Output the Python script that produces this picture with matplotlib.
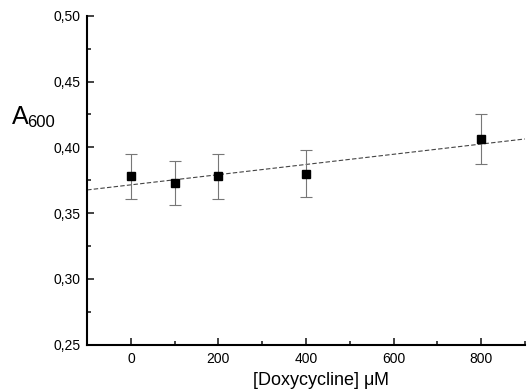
import numpy as np
import matplotlib.pyplot as plt
from matplotlib.ticker import MultipleLocator, FuncFormatter

plt.rcParams['font.family'] = ['Liberation Sans', 'DejaVu Sans']

# doxycycline concentration (uM) vs absorbance at 600 nm
dose = [0, 100, 200, 400, 800]
a600 = [0.378, 0.373, 0.378, 0.380, 0.4066]
a600_err = [0.017, 0.017, 0.017, 0.018, 0.019]

fig = plt.figure(figsize=(5.28, 3.92), dpi=100)
ax = fig.add_axes([0.165, 0.1207, 0.829, 0.839])

# linear fit over the full x range
slope, icpt = np.polyfit(dose, a600, 1)
xfit = np.array([-100, 900])
ax.plot(xfit, slope * xfit + icpt, color='#444444', lw=0.8, dashes=(4, 2), zorder=1)

ax.errorbar(dose, a600, yerr=a600_err, fmt='none', ecolor='#777777',
            elinewidth=0.8, capsize=4.5, capthick=0.8, zorder=2)
ax.plot(dose, a600, 's', color='black', ms=5.5, zorder=3)

ax.set_xlim(-100, 900)
ax.set_ylim(0.25, 0.50)
ax.xaxis.set_major_locator(MultipleLocator(200))
ax.xaxis.set_minor_locator(MultipleLocator(100))
ax.yaxis.set_major_locator(MultipleLocator(0.05))
ax.yaxis.set_minor_locator(MultipleLocator(0.025))
ax.yaxis.set_major_formatter(FuncFormatter(lambda v, p: f"{v:.2f}".replace('.', ',')))

for s in ('top', 'right'):
    ax.spines[s].set_visible(False)
for s in ('left', 'bottom'):
    ax.spines[s].set_linewidth(1.5)

ax.tick_params(which='both', direction='in', width=1.2, labelsize=10, color='#222222')
ax.tick_params(which='major', length=5, pad=5)
ax.tick_params(which='minor', length=3)

ax.set_xlabel(r'[Doxycycline] $\mathregular{\mu}$M', fontsize=13)
ax.xaxis.set_label_coords(0.534, -0.077)

# y label: "A" with a smaller, slightly lowered "600"
fig.text(0.0227, 0.6837, 'A', fontsize=18, va='baseline', ha='left')
fig.text(0.051, 0.676, '600', fontsize=12, va='baseline', ha='left')

fig.savefig('out.png', dpi=100)
